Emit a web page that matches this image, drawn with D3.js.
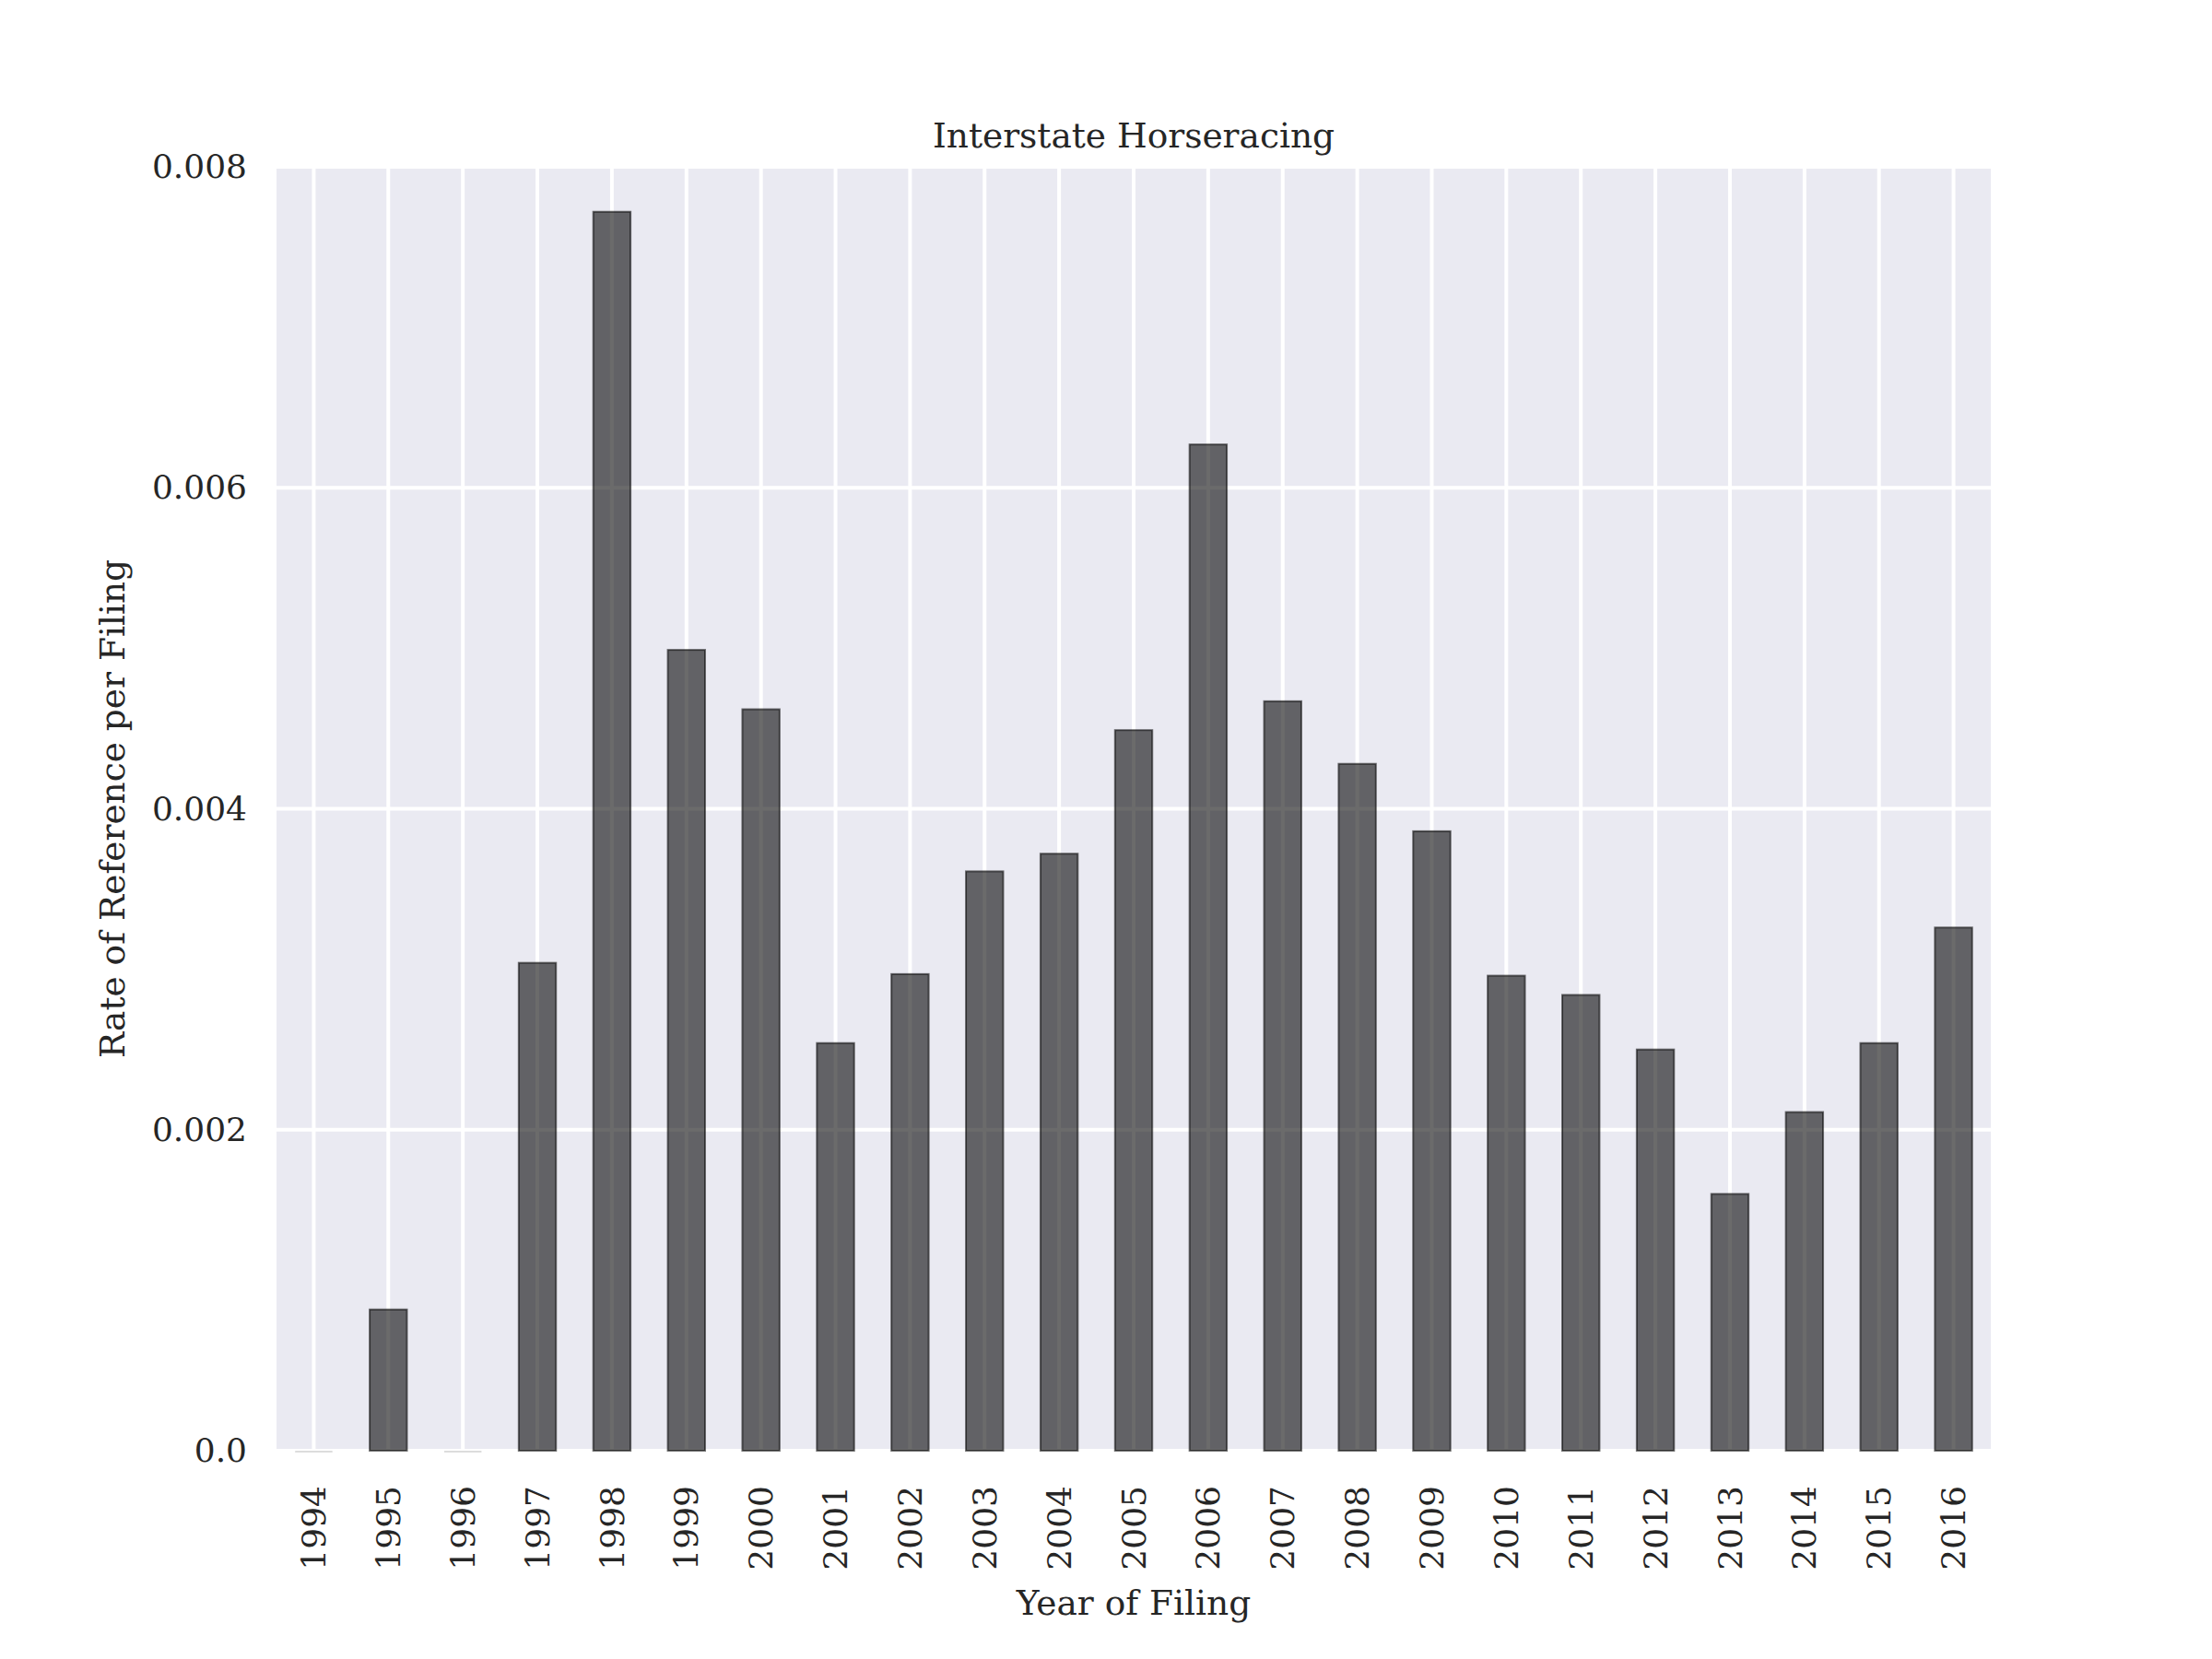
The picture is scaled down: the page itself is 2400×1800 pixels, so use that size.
<!DOCTYPE html>
<html>
<head>
<meta charset="utf-8">
<script src="https://cdn.jsdelivr.net/npm/d3@7"></script>
<style>
  body { margin: 0; background: #fff; }
  text { font-family: "DejaVu Serif", serif; fill: #262626; }
</style>
</head>
<body>
<div id="chart"></div>
<script>
// values
const years = ["1994", "1995", "1996", "1997", "1998", "1999", "2000", "2001", "2002", "2003", "2004", "2005",
  "2006", "2007", "2008", "2009", "2010", "2011", "2012", "2013", "2014", "2015", "2016"];
const rates = [0, 0.00088, 0, 0.00304, 0.00772, 0.00499, 0.00462, 0.00254, 0.00297, 0.00361, 0.00372, 0.00449,
  0.00627, 0.00467, 0.00428, 0.00386, 0.00296, 0.00284, 0.0025, 0.0016, 0.00211, 0.00254, 0.00326];
const yTicks = [0, 0.002, 0.004, 0.006, 0.008];
const yTickLabels = ["0.0", "0.002", "0.004", "0.006", "0.008"];

const width = 2400, height = 1800;
const margin = { top: 181, right: 240, bottom: 226, left: 300 };
const plotW = width - margin.left - margin.right;
const plotH = height - margin.top - margin.bottom;

const data = years.map((y, i) => ({ year: y, rate: rates[i] }));

const svg = d3.select("#chart")
  .append("svg")
    .attr("width", width)
    .attr("height", height);

const g = svg.append("g")
  .attr("transform", `translate(${margin.left},${margin.top})`);

const x = d3.scaleBand()
  .domain(years)
  .range([0, plotW])
  .paddingInner(0.5)
  .paddingOuter(0.25);

const y = d3.scaleLinear()
  .domain([0, 0.008])
  .range([plotH, 0]);

//background
g.append("rect")
  .attr("width", plotW)
  .attr("height", plotH)
  .attr("fill", "#eaeaf2");

//grid lines
g.append("g")
  .selectAll("line")
  .data(years)
  .join("line")
    .attr("x1", d => x(d) + x.bandwidth() / 2)
    .attr("x2", d => x(d) + x.bandwidth() / 2)
    .attr("y1", 0)
    .attr("y2", plotH)
    .attr("stroke", "#fff")
    .attr("stroke-width", 4);

g.append("g")
  .selectAll("line")
  .data(yTicks)
  .join("line")
    .attr("x1", 0)
    .attr("x2", plotW)
    .attr("y1", d => y(d))
    .attr("y2", d => y(d))
    .attr("stroke", "#fff")
    .attr("stroke-width", 4);

//bars
g.append("g")
  .selectAll("rect")
  .data(data.filter(d => d.rate > 0))
  .join("rect")
    .attr("x", d => x(d.year))
    .attr("y", d => y(d.rate))
    .attr("width", x.bandwidth())
    .attr("height", d => y(0) - y(d.rate))
    .attr("fill", "#000")
    .attr("fill-opacity", 0.58)
    .attr("stroke", "#000")
    .attr("stroke-opacity", 0.55)
    .attr("stroke-width", 2);

//zero height bars only show a faint edge
g.append("g")
  .selectAll("line")
  .data(data.filter(d => d.rate === 0))
  .join("line")
    .attr("x1", d => x(d.year))
    .attr("x2", d => x(d.year) + x.bandwidth())
    .attr("y1", y(0) + 1)
    .attr("y2", y(0) + 1)
    .attr("stroke", "#dcdcdc")
    .attr("stroke-width", 2);

//axes (no ticks, seaborn style)
const yAxis = g.append("g")
  .call(d3.axisLeft(y).tickValues(yTicks).tickSize(0).tickPadding(32)
    .tickFormat((d, i) => yTickLabels[i]));
yAxis.select(".domain").remove();
yAxis.selectAll("text")
  .style("font-family", "DejaVu Serif")
  .style("font-size", "36px")
  .attr("fill", "#262626");

const xAxis = g.append("g")
  .attr("transform", `translate(0,${plotH})`)
  .call(d3.axisBottom(x).tickSize(0));
xAxis.select(".domain").remove();
xAxis.selectAll("text")
  .style("font-family", "DejaVu Serif")
  .style("font-size", "36px")
  .attr("fill", "#262626")
  .attr("text-anchor", "end")
  .attr("dy", "0.35em")
  .attr("transform", "translate(0,38) rotate(-90)")
  .attr("x", 0)
  .attr("y", 0);

//labels
svg.append("text")
  .attr("x", margin.left + plotW / 2)
  .attr("y", 160)
  .attr("text-anchor", "middle")
  .style("font-size", "37.5px")
  .text("Interstate Horseracing");

svg.append("text")
  .attr("x", margin.left + plotW / 2)
  .attr("y", 1752)
  .attr("text-anchor", "middle")
  .style("font-size", "37.5px")
  .text("Year of Filing");

svg.append("text")
  .attr("transform", `translate(135,${margin.top + plotH / 2}) rotate(-90)`)
  .attr("text-anchor", "middle")
  .style("font-size", "37.5px")
  .text("Rate of Reference per Filing");
</script>
</body>
</html>
